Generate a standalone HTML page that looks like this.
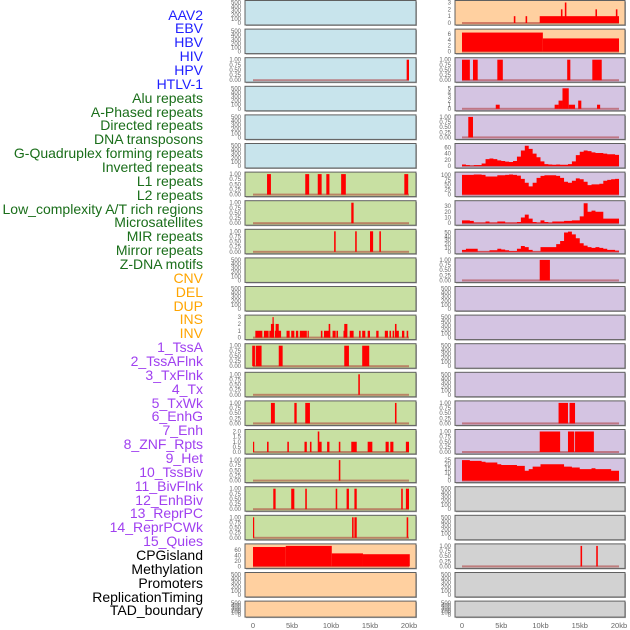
<!DOCTYPE html>
<html><head><meta charset="utf-8"><style>
html,body{margin:0;padding:0;background:#fff;}
#c{position:relative;width:630px;height:630px;overflow:hidden;font-family:"Liberation Sans",sans-serif;}
.lab{position:absolute;right:427px;font-size:14px;line-height:14px;white-space:nowrap;text-align:right;}
</style></head><body>
<div id="c">
<div id="labels"></div>
<svg id="s" width="630" height="630" style="position:absolute;left:0;top:0"></svg>
</div>
<script>
const trackNames=["AAV2","EBV","HBV","HIV","HPV","HTLV-1","Alu repeats","A-Phased repeats","Directed repeats","DNA transposons","G-Quadruplex forming repeats","Inverted repeats","L1 repeats","L2 repeats","Low_complexity A/T rich regions","Microsatellites","MIR repeats","Mirror repeats","Z-DNA motifs","CNV","DEL","DUP","INS","INV","1_TssA","2_TssAFlnk","3_TxFlnk","4_Tx","5_TxWk","6_EnhG","7_Enh","8_ZNF_Rpts","9_Het","10_TssBiv","11_BivFlnk","12_EnhBiv","13_ReprPC","14_ReprPCWk","15_Quies","CPGisland","Methylation","Promoters","ReplicationTiming","TAD_boundary"];
const trackColors=["#2020ff","#2020ff","#2020ff","#2020ff","#2020ff","#2020ff","#1a6e1a","#1a6e1a","#1a6e1a","#1a6e1a","#1a6e1a","#1a6e1a","#1a6e1a","#1a6e1a","#1a6e1a","#1a6e1a","#1a6e1a","#1a6e1a","#1a6e1a","#ffa500","#ffa500","#ffa500","#ffa500","#ffa500","#a040f0","#a040f0","#a040f0","#a040f0","#a040f0","#a040f0","#a040f0","#a040f0","#a040f0","#a040f0","#a040f0","#a040f0","#a040f0","#a040f0","#a040f0","#000","#000","#000","#000","#000"];
const xTicks=[0,5,10,15,20];
const xTickLabels=["0","5kb","10kb","15kb","20kb"];
// segment data [startKb,endKb,value]
const hivLeft=[[19.7,20,1]];
const l1Left=[[1.8,2.3,1],[6.7,7.2,1],[8.3,8.8,1],[9.4,9.8,1],[11.3,11.9,1],[19.4,19.9,1]];
const lowCompLeft=[[12.6,12.9,1]];
const mirLeft=[[10.4,10.6,1],[13.1,13.3,1],[15.0,15.4,1],[16.2,16.4,1]];
const insLeft=[[0.3,1.2,1],[1.4,2.0,1],[2.1,2.6,1],[2.3,2.7,2],[2.5,2.6,3],[2.8,3.0,1],[2.9,3.3,2],[3.0,3.6,1],[4.3,4.7,1],[4.9,5.3,1],[5.5,5.8,1],[6.0,6.9,1],[7.0,7.1,1],[8.7,8.9,1],[9.1,9.9,1],[9.7,9.9,2],[10.2,10.6,1],[10.7,10.9,1],[11.6,11.8,1],[11.7,12.1,2],[12.4,12.9,1],[13.6,13.8,1],[14.0,14.4,1],[14.7,15.0,1],[15.8,16.1,1],[16.9,17.3,1],[17.5,17.7,1],[17.9,18.1,1],[18.2,18.4,2],[18.4,18.7,1],[19.1,19.4,1],[19.7,19.9,1]];
const tssALeft=[[-0.1,0.25,1],[0.35,1.1,1],[3.3,3.8,1],[11.7,12.3,1],[14.0,14.9,1]];
const txFlnkLeft=[[13.5,13.7,1]];
const txWkLeft=[[2.3,2.8,1],[5.3,5.6,1],[6.7,7.3,1],[18.2,18.4,1]];
const znfLeft=[[0,0.15,1],[1.8,2.0,1],[4.4,4.6,1],[6.6,6.9,1],[7.3,7.5,1],[8.3,8.5,2],[8.4,8.8,1],[9.5,9.8,1],[11.0,11.2,1],[12.6,13.3,1],[14.7,15.3,1],[17.0,17.4,1],[17.6,18.0,1],[19.6,20.0,1]];
const tssBivLeft=[[11.0,11.2,1]];
const enhBivLeft=[[2.6,2.9,1],[4.9,5.3,1],[6.7,6.9,1],[10.6,10.8,1],[12.0,12.3,1],[13.0,13.3,1],[19.0,19.2,1],[19.6,20.0,1]];
const reprPCWkLeft=[[0,0.15,1],[12.7,12.9,1],[13.0,13.3,1],[19.7,19.9,1]];
const cpgLeft=[[0,4.2,70],[4.2,10.1,74],[10.1,14.1,47],[14.1,20.1,44]];
const aav2Right=[[6.6,6.8,1],[8.1,8.3,1],[9.9,20,1],[12.6,12.8,2],[13.1,13.3,3],[17.0,17.2,2],[19.6,19.8,2]];
const ebvRight=[[0,10.3,6.5],[10.3,20,4.5]];
const hivRight=[[0,1,1],[1.4,2,1],[4.5,5.2,1],[13.4,13.8,1],[16.6,17.8,1]];
const aluRight=[[4.3,4.8,1],[11.8,12.3,1],[12.3,12.8,2],[12.8,13.6,5],[13.6,14.4,1],[14.8,15.2,2],[17.2,17.6,1]];
const dnaRight=[[0.8,1.4,1]];
const zdnaRight=[[9.9,11.2,1]];
const txWkRight=[[12.3,13.5,1],[13.7,14.4,1]];
const enhRight=[[9.9,12.5,1],[13.5,14.3,1],[14.4,16.8,1]];
const cpgRight=[[15.1,15.3,1],[17.1,17.3,1]];
// profile data, 0.5kb bins from 0 to 20kb
const gquadBins=[5,3,1,3,3,8,22,24,22,18,16,14,13,16,30,50,65,55,40,28,15,6,5,4,5,4,4,6,15,35,46,50,48,44,42,42,40,38,38,36];
const l1Bins=[100,100,100,102,102,100,92,92,92,98,98,100,102,100,96,80,60,42,60,85,95,98,98,98,95,85,65,60,70,82,78,65,48,52,52,55,70,75,78,80];
const lowCompBins=[5,5,4,1,1,1,3,1,1,3,3,1,1,1,2,10,15,8,2,1,5,2,1,3,3,3,4,4,5,5,12,35,20,22,20,20,8,8,8,8];
const mirBins=[5,8,8,8,1,1,1,4,4,8,6,4,2,2,8,15,12,5,1,1,12,12,12,12,20,28,50,52,45,35,22,16,12,10,12,10,8,5,5,3];
const hetBins=[25,25,24,24,24,23,22,22,22,20,19,19,19,19,18,18,12,14,17,17,20,20,20,20,20,20,17,17,16,16,14,14,14,15,14,14,14,14,12,12];

const emptyTicks=[0,100,200,300,400,500];
const unitTicks=[0,0.25,0.5,0.75,1];
const L={x0:253,x1:409,bx:245,bw:171};
const R={x0:462,x1:619,bx:455,bw:170};
const BLUE="#c8e4ec",GREEN="#c8e0a2",ORANGE="#ffd0a0",LAV="#d4c4e2",GREY="#d2d2d2";
// [column, row, bg, data, type, yMax, ticks, decimals]
const panels=[
[L,0,BLUE,null,"e",500,emptyTicks,0],[R,0,ORANGE,aav2Right,"s",3,[0,1,2,3],0],
[L,1,BLUE,null,"e",500,emptyTicks,0],[R,1,ORANGE,ebvRight,"s",7,[0,2,4,6],0],
[L,2,BLUE,hivLeft,"s",1,unitTicks,2],[R,2,LAV,hivRight,"s",1,unitTicks,2],
[L,3,BLUE,null,"e",500,emptyTicks,0],[R,3,LAV,aluRight,"s",5,[0,1,2,3,4,5],0],
[L,4,BLUE,null,"e",500,emptyTicks,0],[R,4,LAV,dnaRight,"s",1,unitTicks,2],
[L,5,BLUE,null,"e",500,emptyTicks,0],[R,5,LAV,gquadBins,"p",66,[0,20,40,60],0],
[L,6,GREEN,l1Left,"s",1,unitTicks,2],[R,6,LAV,l1Bins,"p",104,[0,25,50,75,100],0],
[L,7,GREEN,lowCompLeft,"s",1,unitTicks,2],[R,7,LAV,lowCompBins,"p",36,[0,10,20,30],0],
[L,8,GREEN,mirLeft,"s",1,unitTicks,2],[R,8,LAV,mirBins,"p",53,[0,10,20,30,40,50],0],
[L,9,GREEN,null,"e",500,emptyTicks,0],[R,9,LAV,zdnaRight,"s",1,unitTicks,2],
[L,10,GREEN,null,"e",500,emptyTicks,0],[R,10,LAV,null,"e",500,emptyTicks,0],
[L,11,GREEN,insLeft,"s",3,[0,1,2,3],0],[R,11,LAV,null,"e",500,emptyTicks,0],
[L,12,GREEN,tssALeft,"s",1,unitTicks,2],[R,12,LAV,null,"e",500,emptyTicks,0],
[L,13,GREEN,txFlnkLeft,"s",1,unitTicks,2],[R,13,LAV,null,"e",500,emptyTicks,0],
[L,14,GREEN,txWkLeft,"s",1,unitTicks,2],[R,14,LAV,txWkRight,"s",1,unitTicks,2],
[L,15,GREEN,znfLeft,"s",2,[0,0.5,1,1.5,2],1],[R,15,LAV,enhRight,"s",1,unitTicks,2],
[L,16,GREEN,tssBivLeft,"s",1,unitTicks,2],[R,16,LAV,hetBins,"p",25,[0,5,10,15,20,25],0],
[L,17,GREEN,enhBivLeft,"s",1,unitTicks,2],[R,17,GREY,null,"e",500,emptyTicks,0],
[L,18,GREEN,reprPCWkLeft,"s",1,unitTicks,2],[R,18,GREY,null,"e",500,emptyTicks,0],
[L,19,ORANGE,cpgLeft,"s",74,[0,20,40,60],0],[R,19,GREY,cpgRight,"s",1,unitTicks,2],
[L,20,ORANGE,null,"e",500,emptyTicks,0],[R,20,GREY,null,"e",500,emptyTicks,0],
[L,21,ORANGE,null,"e",500,emptyTicks,0],[R,21,GREY,null,"e",500,emptyTicks,0]
];
const NS="http://www.w3.org/2000/svg";
const svg=document.getElementById('s');
function mk(tag,attrs,parent){const e=document.createElementNS(NS,tag);for(const k in attrs)e.setAttribute(k,attrs[k]);(parent||svg).appendChild(e);return e;}
// labels
const labBox=document.getElementById('labels');
trackNames.forEach((n,i)=>{
  const d=document.createElement('div');
  d.className='lab';
  
  
  d.style.top=(15+i*13.86-7.5)+'px';
  d.style.color=trackColors[i];
  d.textContent=n;
  labBox.appendChild(d);
});
panels.forEach((p,idx)=>{
  const [col,row,bg,data,type,yMax,ticks,dec]=p;
  const top=row*28.6+0.5;
  const h=row===21?16:24.5;
  const bot=top+h;
  const g=mk('g',{});
  
  
  mk('rect',{x:col.bx+1,y:top+1,width:col.bw,height:h,fill:'#aaa'},g);
  mk('rect',{x:col.bx,y:top,width:col.bw,height:h,fill:bg,stroke:'#606060','stroke-width':1},g);
  const xs=kb=>col.x0+(kb/20)*(col.x1-col.x0);
  const ys=v=>bot-2-(v/yMax)*(h-4);
  // y ticks
  ticks.forEach(t=>{
    const tx=mk('text',{x:col.bx-4,y:ys(t)+2,'font-size':6,'text-anchor':'end',fill:'#666','font-family':'Liberation Sans, sans-serif'},g);
    
    
    tx.textContent=t.toFixed(dec);
  });
  if(!data)return;
  const bl=mk('rect',{x:xs(0),y:ys(0)-1,width:xs(20)-xs(0),height:2,fill:'rgba(170,40,40,0.5)'},g);
  
  
  if(type==='s'){
    data.forEach(d=>{
      const x1=xs(d[0]),x2=xs(d[1]);
      const r=mk('rect',{x:x1,y:ys(d[2]),width:Math.max(1.2,x2-x1),height:ys(0)-ys(d[2]),fill:'#ff0000'},g);
      
      
    });
  }else{
    let dstr='M'+xs(0)+' '+ys(0);
    data.forEach((v,i)=>{dstr+=' L'+xs(i*0.5)+' '+ys(v)+' L'+xs((i+1)*0.5)+' '+ys(v);});
    dstr+=' L'+xs(data.length*0.5)+' '+ys(0)+' Z';
    const pa=mk('path',{d:dstr,fill:'#ff0000'},g);
    
    
  }
});
[L,R].forEach(col=>{
  xTicks.forEach((t,i)=>{
    const x=col.x0+(t/20)*(col.x1-col.x0);
    const tx=mk('text',{x:x,y:628,'font-size':7.5,'text-anchor':'middle',fill:'#666','font-family':'Liberation Sans, sans-serif'});
    
    
    tx.textContent=xTickLabels[i];
  });
});
</script>
</body></html>
